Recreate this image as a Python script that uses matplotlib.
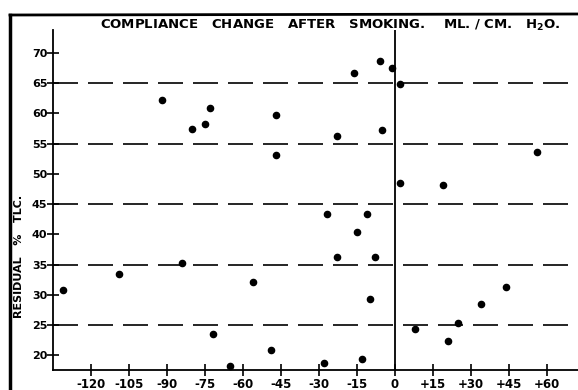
import matplotlib
matplotlib.use("Agg")
import matplotlib.pyplot as plt
from matplotlib.lines import Line2D

# compliance change (ml/cm H2O) vs residual % TLC
change = [-131, -109, -92, -80, -75, -73, -84, -72, -65, -56, -49, -47, -47,
          -16, -6, -1, 2, -23, -5, 56, 2, 19,
          -27, -11, -15, -23, -8, -10, -28, -13, 8, 21, 25, 34, 44]
residual = [30.8, 33.4, 62.3, 57.4, 58.2, 60.9, 35.3, 23.6, 18.2, 32.2, 20.9, 59.8, 53.1,
            66.7, 68.7, 67.5, 64.9, 56.2, 57.2, 53.7, 48.5, 48.2,
            43.4, 43.4, 40.4, 36.3, 36.3, 29.4, 18.8, 19.4, 24.4, 22.4, 25.4, 28.5, 31.4]

band_levels = [65, 55, 45, 35, 25]
xticks = [-120, -105, -90, -75, -60, -45, -30, -15, 0, 15, 30, 45, 60]
xlabels = ["-120", "-105", "-90", "-75", "-60", "-45", "-30", "-15", "0",
           "+15", "+30", "+45", "+60"]
yticks = [20, 25, 30, 35, 40, 45, 50, 55, 60, 65, 70]

fig = plt.figure(figsize=(5.78, 3.90), dpi=100)
ax = fig.add_axes([53 / 578, 20 / 390, 525 / 578, 340 / 390])

for lev in band_levels:
    ax.axhline(lev, color="black", lw=1.2, dashes=(15, 6), zorder=1)

ax.axvline(0, color="black", lw=1.3, zorder=1)
ax.scatter(change, residual, s=20, color="black", zorder=3)

ax.set_xlim(-135, 72.3)
ax.set_ylim(17.6, 73.8)

for side in ["top", "right"]:
    ax.spines[side].set_visible(False)
ax.spines["left"].set_linewidth(1.3)
ax.spines["bottom"].set_linewidth(1.3)

ax.set_xticks(xticks)
ax.set_xticklabels(xlabels)
ax.set_yticks(yticks)
ax.tick_params(direction="inout", length=8, width=1.2, labelsize=8.5)
ax.tick_params(axis="y", labelsize=8, pad=0)
ax.tick_params(axis="x", pad=2)
for lab in ax.get_xticklabels() + ax.get_yticklabels():
    lab.set_fontweight("bold")

ax.set_ylabel("RESIDUAL   %   TLC.", fontsize=8, fontweight="bold")
ax.yaxis.set_label_coords(-0.056, 0.335)

fig.text(0.571, 0.936,
         "COMPLIANCE   CHANGE   AFTER   SMOKING.    ML. / CM.   H$_\\mathbf{2}$O.",
         ha="center", va="center", fontsize=9.5, fontweight="bold")

# scan border
fig.add_artist(Line2D([10 / 578, 10 / 578], [0, 1 - 15 / 390], color="black", lw=2.5))
fig.add_artist(Line2D([10 / 578, 1], [1 - 15 / 390, 1 - 14 / 390], color="black", lw=2))

fig.savefig("out.png", dpi=100)
